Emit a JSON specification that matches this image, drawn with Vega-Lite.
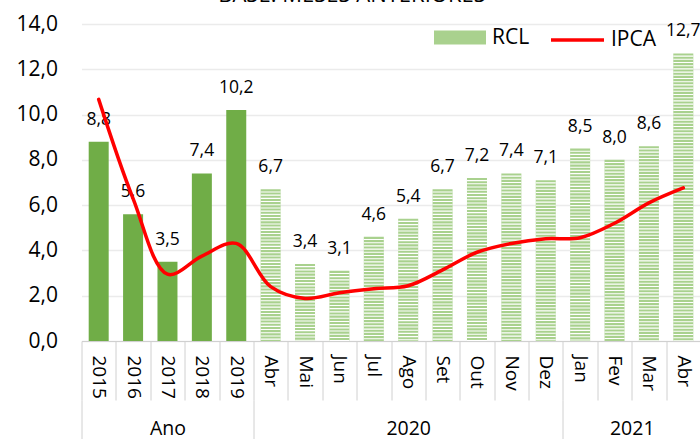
{
  "$schema": "https://vega.github.io/schema/vega-lite/v6.json",
  "autosize": "none",
  "padding": {"left": 81.5, "top": 24, "right": 0, "bottom": 98},
  "width": 619,
  "height": 317,
  "title": {"text": "BASE: MESES ANTERIORES", "font": "Open Sans", "fontSize": 22, "fontWeight": "normal", "color": "#000000", "anchor": "middle", "frame": "group", "baseline": "alphabetic", "offset": 2, "dx": -39, "dy": 14},
  "config": {
    "view": {"stroke": null},
    "locale": {"number": {"decimal": ",", "thousands": ".", "grouping": [3], "currency": ["R$", ""]}},
    "axisY": {"title": null, "values": [0, 2, 4, 6, 8, 10, 12, 14], "format": ".1f",
      "domain": false, "ticks": false, "grid": true, "gridColor": "#EBEBEB", "gridWidth": 1.3,
      "labelFont": "Open Sans", "labelFontSize": 21, "labelColor": "#000000", "labelPadding": 24}
  },
  "data": {"values": [
    {"cat": "2015", "rcl": 8.8, "ipca": 10.67, "tipo": "Ano"},
    {"cat": "2016", "rcl": 5.6, "ipca": 6.29, "tipo": "Ano"},
    {"cat": "2017", "rcl": 3.5, "ipca": 2.95, "tipo": "Ano"},
    {"cat": "2018", "rcl": 7.4, "ipca": 3.75, "tipo": "Ano"},
    {"cat": "2019", "rcl": 10.2, "ipca": 4.31, "tipo": "Ano"},
    {"cat": "Abr 2020", "rcl": 6.7, "ipca": 2.40, "tipo": "RCL"},
    {"cat": "Mai 2020", "rcl": 3.4, "ipca": 1.88, "tipo": "RCL"},
    {"cat": "Jun 2020", "rcl": 3.1, "ipca": 2.13, "tipo": "RCL"},
    {"cat": "Jul 2020", "rcl": 4.6, "ipca": 2.31, "tipo": "RCL"},
    {"cat": "Ago 2020", "rcl": 5.4, "ipca": 2.44, "tipo": "RCL"},
    {"cat": "Set 2020", "rcl": 6.7, "ipca": 3.14, "tipo": "RCL"},
    {"cat": "Out 2020", "rcl": 7.2, "ipca": 3.92, "tipo": "RCL"},
    {"cat": "Nov 2020", "rcl": 7.4, "ipca": 4.31, "tipo": "RCL"},
    {"cat": "Dez 2020", "rcl": 7.1, "ipca": 4.52, "tipo": "RCL"},
    {"cat": "Jan 2021", "rcl": 8.5, "ipca": 4.56, "tipo": "RCL"},
    {"cat": "Fev 2021", "rcl": 8.0, "ipca": 5.20, "tipo": "RCL"},
    {"cat": "Mar 2021", "rcl": 8.6, "ipca": 6.10, "tipo": "RCL"},
    {"cat": "Abr 2021", "rcl": 12.7, "ipca": 6.76, "tipo": "RCL"}
  ]},
  "resolve": {"axis": {"x": "independent"}},
  "layer": [
    {
      "mark": {"type": "bar", "width": 20},
      "encoding": {
        "x": {"field": "cat", "type": "nominal", "sort": null,
          "scale": {"paddingInner": 0, "paddingOuter": 0},
          "axis": {"title": null, "labelAngle": 90, "labelExpr": "datum.value ? split(datum.value, ' ')[0] : ''",
            "labelFont": "Open Sans", "labelFontSize": 19, "labelColor": "#000000",
            "labelAlign": "left", "labelBaseline": "middle", "labelPadding": -45,
            "tickBand": "extent", "tickSize": 59, "tickColor": "#D0D0D0", "tickWidth": 1,
            "domainColor": "#D0D0D0", "domainWidth": 1, "grid": false, "labelOverlap": false}},
        "y": {"field": "rcl", "type": "quantitative", "title": null,
          "scale": {"domain": [0, 14], "nice": false}},
        "fill": {"field": "tipo", "type": "nominal",
          "scale": {"domain": ["RCL", "Ano"], "range": ["#A9D18E", "#70AD47"]},
          "legend": {"values": ["RCL"], "title": null, "orient": "none", "legendX": 352.5, "legendY": -12.5,
            "padding": 0, "symbolType": "M-1,-0.27H1V0.27H-1Z", "symbolSize": 2704, "symbolStrokeWidth": 0,
            "labelFont": "Open Sans", "labelFontSize": 21, "labelColor": "#000000", "labelOffset": 6}}
      }
    },
    {
      "transform": [{"filter": "datum.tipo === 'RCL'"}],
      "mark": {"type": "rule", "color": "#FFFFFF", "strokeWidth": 20, "strokeDash": [1.1, 2.1], "strokeDashOffset": 1.1, "strokeCap": "butt"},
      "encoding": {
        "x": {"field": "cat", "type": "nominal", "sort": null, "axis": null},
        "y": {"field": "rcl", "type": "quantitative", "title": null},
        "y2": {"datum": 0}
      }
    },
    {
      "mark": {"type": "text", "dy": -22, "font": "Open Sans", "fontSize": 17.5, "color": "#000000", "baseline": "middle", "align": "center"},
      "encoding": {
        "x": {"field": "cat", "type": "nominal", "sort": null, "axis": null},
        "y": {"field": "rcl", "type": "quantitative", "title": null},
        "text": {"field": "rcl", "type": "quantitative", "format": ".1f"}
      }
    },
    {
      "mark": {"type": "line", "interpolate": "catmull-rom", "strokeWidth": 3.5, "strokeCap": "round"},
      "encoding": {
        "x": {"field": "cat", "type": "nominal", "sort": null,
          "axis": {"orient": "bottom", "offset": 59, "title": null, "domain": false, "labelAngle": 0,
            "labelExpr": "datum.value === '2017' ? 'Ano' : datum.value === 'Ago 2020' ? '2020' : datum.value === 'Fev 2021' ? '2021' : ''",
            "labelOffset": {"condition": {"test": "datum.value === 'Fev 2021'", "value": 17.2}, "value": 0},
            "labelFont": "Open Sans", "labelFontSize": 19.5, "labelColor": "#000000",
            "labelAlign": "center", "labelBaseline": "middle", "labelPadding": -12,
            "tickBand": "extent", "tickSize": 40, "tickColor": "#D0D0D0", "tickWidth": 1,
            "tickOpacity": {"condition": {"test": "datum.extra || datum.value === '2019' || datum.value === 'Dez 2020'", "value": 1}, "value": 0},
            "grid": false, "labelOverlap": false}},
        "y": {"field": "ipca", "type": "quantitative", "title": null},
        "stroke": {"datum": "IPCA", "type": "nominal",
          "scale": {"range": ["#FF0000"]},
          "legend": {"title": null, "orient": "none", "legendX": 467.5, "legendY": -12.5, "padding": 0,
            "symbolType": "stroke", "symbolSize": 2809, "symbolStrokeWidth": 3.5,
            "labelFont": "Open Sans", "labelFontSize": 21, "labelColor": "#000000", "labelOffset": 5}}
      }
    }
  ]
}
